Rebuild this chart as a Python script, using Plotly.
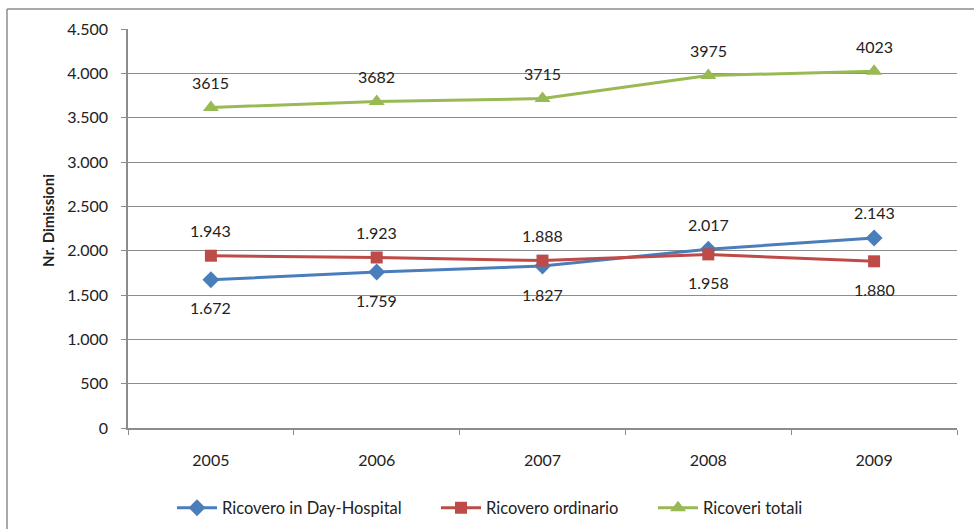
import plotly.graph_objects as go

years = ["2005", "2006", "2007", "2008", "2009"]
day_hospital = [1672, 1759, 1827, 2017, 2143]
ordinario = [1943, 1923, 1888, 1958, 1880]
totali = [3615, 3682, 3715, 3975, 4023]

y_ticks = [0, 500, 1000, 1500, 2000, 2500, 3000, 3500, 4000, 4500]

FONT = "Lato, 'Open Sans', sans-serif"
GRID = "#8c8c8c"
TXT = "#222222"

# label placement per point: +1 above the marker, -1 below
blue_side = [-1, -1, -1, 1, 1]
red_side = [1, 1, 1, -1, -1]
green_side = [1, 1, 1, 1, 1]

# plot-area geometry in pixels, used for paper-coordinate placements
L, R, T, B, W, H = 128, 17, 29, 101, 974, 529
PW, PH = W - L - R, H - T - B


def px_x(p):
    return (p - L) / PW


def px_y(p):
    return (H - B - p) / PH


def fmt_dot(v):
    return f"{v:,}".replace(",", ".")


fig = go.Figure()
fig.add_trace(go.Scatter(
    x=years, y=day_hospital, name="Ricovero in Day-Hospital",
    mode="lines+markers", legend="legend",
    line=dict(color="#4A7EBB", width=3),
    marker=dict(symbol="diamond", size=13, color="#4A7EBB"),
))
fig.add_trace(go.Scatter(
    x=years, y=ordinario, name="Ricovero ordinario",
    mode="lines+markers", legend="legend2",
    line=dict(color="#BE4B48", width=3),
    marker=dict(symbol="square", size=12, color="#BE4B48"),
))
fig.add_trace(go.Scatter(
    x=years, y=totali, name="Ricoveri totali",
    mode="lines+markers", legend="legend3",
    line=dict(color="#98B954", width=3),
    marker=dict(symbol="triangle-up", size=14, color="#98B954"),
))

annotations = []
for vals, sides, fmt in [
    (day_hospital, blue_side, fmt_dot),
    (ordinario, red_side, fmt_dot),
    (totali, green_side, str),
]:
    for i, (v, s) in enumerate(zip(vals, sides)):
        annotations.append(dict(
            x=i, y=v, xref="x", yref="y", text=fmt(v), showarrow=False,
            yshift=25 if s > 0 else -28,
            font=dict(size=16, family=FONT, color=TXT),
        ))

annotations.append(dict(
    text="<b>Nr. Dimissioni</b>", textangle=-90, showarrow=False,
    xref="paper", yref="paper", x=px_x(48), y=px_y(221),
    xanchor="center", yanchor="middle",
    font=dict(size=15, family=FONT, color=TXT),
))


def legend_at(px_left):
    return dict(orientation="h", x=px_x(px_left), xanchor="left",
                y=px_y(508), yanchor="middle",
                font=dict(size=16.5, family=FONT, color=TXT),
                itemwidth=40, bgcolor="rgba(0,0,0,0)")


fig.update_layout(
    width=W, height=H,
    margin=dict(l=L, r=R, t=T, b=B, autoexpand=False),
    paper_bgcolor="white", plot_bgcolor="white",
    font=dict(family=FONT, size=16, color=TXT),
    separators=",.",
    showlegend=True,
    legend=legend_at(172),
    legend2=legend_at(436),
    legend3=legend_at(653),
    annotations=annotations,
    shapes=[
        dict(type="line", xref="paper", yref="paper",
             x0=px_x(7), x1=1.05, y0=px_y(9), y1=px_y(9),
             line=dict(color=GRID, width=1.5)),
        dict(type="line", xref="paper", yref="paper",
             x0=px_x(7), x1=px_x(7), y0=px_y(9), y1=px_y(540),
             line=dict(color=GRID, width=1.5)),
    ],
)

fig.update_xaxes(
    type="category", range=[-0.5, 4.5], tickson="boundaries",
    ticks="outside", ticklen=5, automargin=False,
    tickcolor=GRID, showline=True, linecolor=GRID, linewidth=1.5,
    showgrid=False, tickfont=dict(size=16, family=FONT, color=TXT),
    ticklabelstandoff=17,
)
fig.update_yaxes(
    range=[0, 4500], tickvals=y_ticks, tickformat=",", automargin=False,
    ticks="outside", ticklen=5, tickcolor=GRID,
    showline=True, linecolor=GRID, linewidth=1.5,
    showgrid=True, gridcolor=GRID, gridwidth=1,
    zeroline=False, tickfont=dict(size=16, family=FONT, color=TXT),
    ticklabelstandoff=10,
)

fig.write_html("out.html")
